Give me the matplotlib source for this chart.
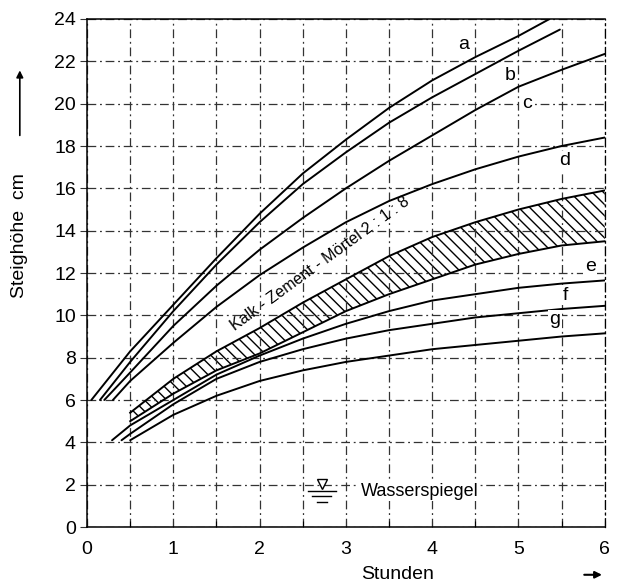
import matplotlib.pyplot as plt
import numpy as np

plt.rcParams['font.family'] = ['Liberation Sans', 'DejaVu Sans']

# Curves (Stunden, Steighoehe cm)
a_x = [0.05, 0.5, 1, 1.5, 2, 2.5, 3, 3.5, 4, 4.5, 5, 5.36]
a_y = [6.0, 8.3, 10.5, 12.7, 14.8, 16.7, 18.3, 19.8, 21.1, 22.2, 23.2, 24.0]
b_x = [0.15, 0.5, 1, 1.5, 2, 2.5, 3, 3.5, 4, 4.5, 5, 5.48]
b_y = [6.0, 7.8, 10.2, 12.4, 14.4, 16.2, 17.7, 19.1, 20.3, 21.4, 22.5, 23.5]
c_x = [0.2, 0.5, 1, 1.5, 2, 2.5, 3, 3.5, 4, 4.5, 5, 5.5, 6]
c_y = [6.0, 7.3, 9.5, 11.4, 13.1, 14.6, 16.0, 17.3, 18.5, 19.7, 20.8, 21.6, 22.35]
d_x = [0.3, 0.5, 1, 1.5, 2, 2.5, 3, 3.5, 4, 4.5, 5, 5.5, 6]
d_y = [6.0, 6.9, 8.7, 10.4, 11.9, 13.2, 14.4, 15.4, 16.2, 16.9, 17.5, 18.0, 18.4]

# Kalk-Zement-Moertel 2:1:8 band
band_x = [0.5, 1, 1.5, 2, 2.5, 3, 3.5, 4, 4.5, 5, 5.5, 6]
band_top = [5.4, 7.0, 8.3, 9.4, 10.6, 11.7, 12.8, 13.7, 14.4, 15.0, 15.5, 15.9]
band_bot = [5.0, 6.3, 7.4, 8.2, 9.2, 10.2, 11.0, 11.7, 12.4, 12.9, 13.3, 13.5]

e_x = [0.29, 0.5, 1, 1.5, 2, 2.5, 3, 3.5, 4, 4.5, 5, 5.5, 6]
e_y = [4.1, 4.8, 6.0, 7.2, 8.1, 8.9, 9.6, 10.2, 10.7, 11.0, 11.3, 11.5, 11.65]
f_x = [0.4, 0.5, 1, 1.5, 2, 2.5, 3, 3.5, 4, 4.5, 5, 5.5, 6]
f_y = [4.1, 4.4, 5.8, 7.0, 7.8, 8.4, 8.9, 9.3, 9.6, 9.9, 10.1, 10.3, 10.45]
g_x = [0.5, 1, 1.5, 2, 2.5, 3, 3.5, 4, 4.5, 5, 5.5, 6]
g_y = [4.1, 5.3, 6.2, 6.9, 7.4, 7.8, 8.1, 8.4, 8.6, 8.8, 9.0, 9.15]

curve_labels = ['a', 'b', 'c', 'd', 'e', 'f', 'g']
label_x = [4.36, 4.9, 5.1, 5.54, 5.83, 5.54, 5.42]
label_y = [22.8, 21.35, 20.0, 17.3, 12.3, 10.95, 9.8]

fig = plt.figure(figsize=(6.19, 5.88), dpi=100)
ax = fig.add_axes([0.1406, 0.1037, 0.8364, 0.864])

dashdot = (0, (7, 3, 1.5, 3))
ax.set_xlim(0, 6)
ax.set_ylim(0, 24)
ax.set_xticks(np.arange(0, 7, 1))
ax.set_xticks(np.arange(0, 6.5, 0.5), minor=True)
ax.set_yticks(np.arange(0, 26, 2))
ax.tick_params(axis='both', which='major', labelsize=14, direction='out', length=5, width=0.8, color='0.2')
ax.tick_params(axis='x', which='minor', direction='in', length=4, width=0.8)
ax.tick_params(axis='x', which='major', direction='in', length=4, pad=10)
ax.tick_params(axis='y', which='major', pad=3)
ax.grid(which='both', axis='x', color='0.2', linestyle=dashdot, linewidth=0.9)
ax.grid(which='major', axis='y', color='0.2', linestyle=dashdot, linewidth=0.9)
for s in ['top', 'bottom', 'left']:
    ax.spines[s].set_linewidth(1.1)
ax.spines['right'].set_linestyle(dashdot)
ax.spines['right'].set_linewidth(0.9)

for xs, ys in [(a_x, a_y), (b_x, b_y), (c_x, c_y), (d_x, d_y), (e_x, e_y), (f_x, f_y), (g_x, g_y)]:
    ax.plot(xs, ys, color='black', lw=1.4, solid_capstyle='round')

ax.plot(band_x, band_top, color='black', lw=1.4)
ax.plot(band_x, band_bot, color='black', lw=1.4)
ax.fill_between(band_x, band_bot, band_top, facecolor='none', edgecolor='black', hatch='\\\\\\', linewidth=0)

for t, lx, ly in zip(curve_labels, label_x, label_y):
    ax.text(lx, ly, t, fontsize=14, ha='center', va='center',
            bbox=dict(facecolor='white', edgecolor='none', pad=1))

ax.text(2.7, 12.45, 'Kalk - Zement - Mörtel 2 : 1 : 8', fontsize=11.5, rotation=36,
        ha='center', va='center', rotation_mode='anchor')

# Wasserspiegel symbol and text
ax.plot([2.72], [2.05], marker='v', markersize=7, mfc='white', mec='black', mew=1)
ax.plot([2.56, 2.88], [1.7, 1.7], color='black', lw=1)
ax.plot([2.61, 2.83], [1.45, 1.45], color='black', lw=1)
ax.plot([2.66, 2.78], [1.2, 1.2], color='black', lw=1)
ax.text(3.17, 1.7, 'Wasserspiegel', fontsize=13, ha='left', va='center',
        bbox=dict(facecolor='white', edgecolor='none', pad=1))

ax.set_xlabel('Stunden', fontsize=14, x=0.6, labelpad=6)
ax.annotate('', xy=(1.0, -0.094), xytext=(0.955, -0.094), xycoords='axes fraction',
            arrowprops=dict(arrowstyle='-|>', color='black', lw=1.5))
fig.text(0.032, 0.60, 'Steighöhe  cm', rotation=90, fontsize=14, ha='center', va='center')
ax.annotate('', xy=(0.032, 0.885), xytext=(0.032, 0.765), xycoords='figure fraction',
            arrowprops=dict(arrowstyle='-|>', color='black', lw=1.2))

fig.savefig('out.png', dpi=100)
